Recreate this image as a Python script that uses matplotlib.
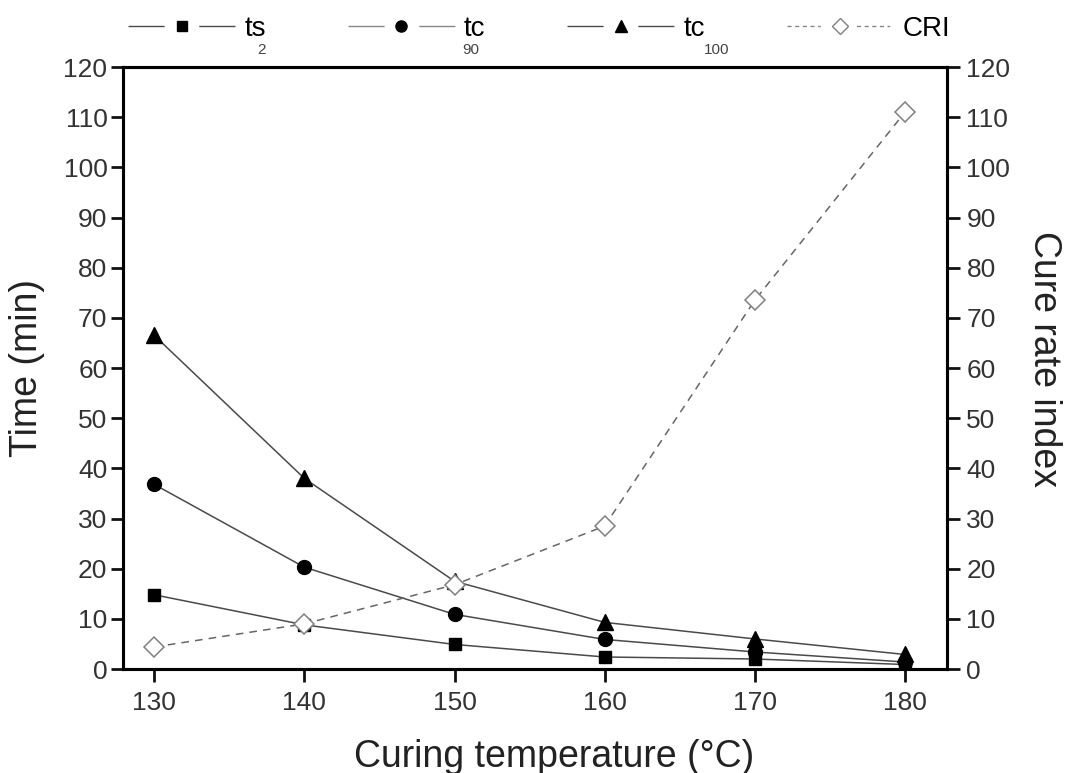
import matplotlib.pyplot as plt
from matplotlib.lines import Line2D

plt.rcParams["font.family"] = ["Liberation Sans", "DejaVu Sans"]

temp = [130, 140, 150, 160, 170, 180]
ts2 = [14.8, 8.8, 4.9, 2.4, 2.0, 0.9]
tc90 = [36.8, 20.3, 10.9, 5.9, 3.4, 1.4]
tc100 = [66.5, 38.0, 17.5, 9.3, 6.0, 2.9]
cri = [4.4, 9.0, 16.8, 28.5, 73.5, 111.0]
labels = ["ts", "tc", "tc", "CRI"]
subs = ["2", "90", "100"]

fig = plt.figure(figsize=(10.67, 7.73), dpi=100)
ax = fig.add_axes([0.115, 0.1345, 0.7725, 0.7788])
ax2 = ax.twinx()

gray = "#4a4a4a"
ax.plot(temp, ts2, color=gray, lw=1.1, marker="s", ms=9, mfc="black", mec="black", zorder=3)
ax.plot(temp, tc90, color=gray, lw=1.1, marker="o", ms=10, mfc="black", mec="black", zorder=3)
ax.plot(temp, tc100, color=gray, lw=1.1, marker="^", ms=11, mfc="black", mec="black", zorder=3)
ax2.plot(temp, cri, color="#666666", lw=1.1, ls=(0, (5, 4)), marker="D", ms=10,
         mfc="white", mec="#808080", mew=1.1, zorder=3)

for a in (ax, ax2):
    a.set_xlim(127.9, 182.8)
    a.set_ylim(0, 120)
    a.set_yticks(range(0, 121, 10))
    a.tick_params(labelsize=19, width=2, length=9, direction="out", color="#111111",
                  labelcolor="#333333")
    for s in a.spines.values():
        s.set_linewidth(2.2)

ax.set_xticks(temp)
ax.tick_params(axis="x", pad=7)
ax.tick_params(axis="y", pad=2)
ax2.tick_params(axis="y", pad=5)
ax.set_xlabel("Curing temperature (°C)", fontsize=27, va="center", color="#222222")
ax.set_ylabel("Time (min)", fontsize=27, va="center", color="#222222")
ax2.set_ylabel("Cure rate index", fontsize=27, rotation=270, va="center", color="#222222")
ax.xaxis.set_label_coords(0.524, -0.146)
ax.yaxis.set_label_coords(-0.1165, 0.5)
ax2.yaxis.set_label_coords(1.118, 0.515)

# legend handles with a gap around the marker
solid = (0, (26, 25))
dashed = (0, (3, 2.5, 3, 2.5, 3, 2.5, 3, 2.5, 2, 26))
handles = [
    Line2D([], [], color=gray, lw=1, ls=solid, marker="s", ms=7, mfc="black", mec="black"),
    Line2D([], [], color="#888888", lw=1, ls=solid, marker="o", ms=8, mfc="black", mec="black"),
    Line2D([], [], color=gray, lw=1, ls=solid, marker="^", ms=8, mfc="black", mec="black"),
    Line2D([], [], color="#888888", lw=1, ls=dashed, marker="D", ms=8, mfc="white", mec="#808080"),
]
fig.legend(handles, labels, loc="center left", bbox_to_anchor=(0.12, 0.963), ncol=4,
           frameon=False, fontsize=20, borderpad=0, borderaxespad=0,
           handlelength=3.85, handletextpad=0.33, columnspacing=2.95, numpoints=1)
for xs, s in zip([0.245, 0.441, 0.672], subs):
    fig.text(xs, 0.935, s, fontsize=11, color="#444444", ha="center", va="center")

fig.savefig("out.png")
plt.close()
